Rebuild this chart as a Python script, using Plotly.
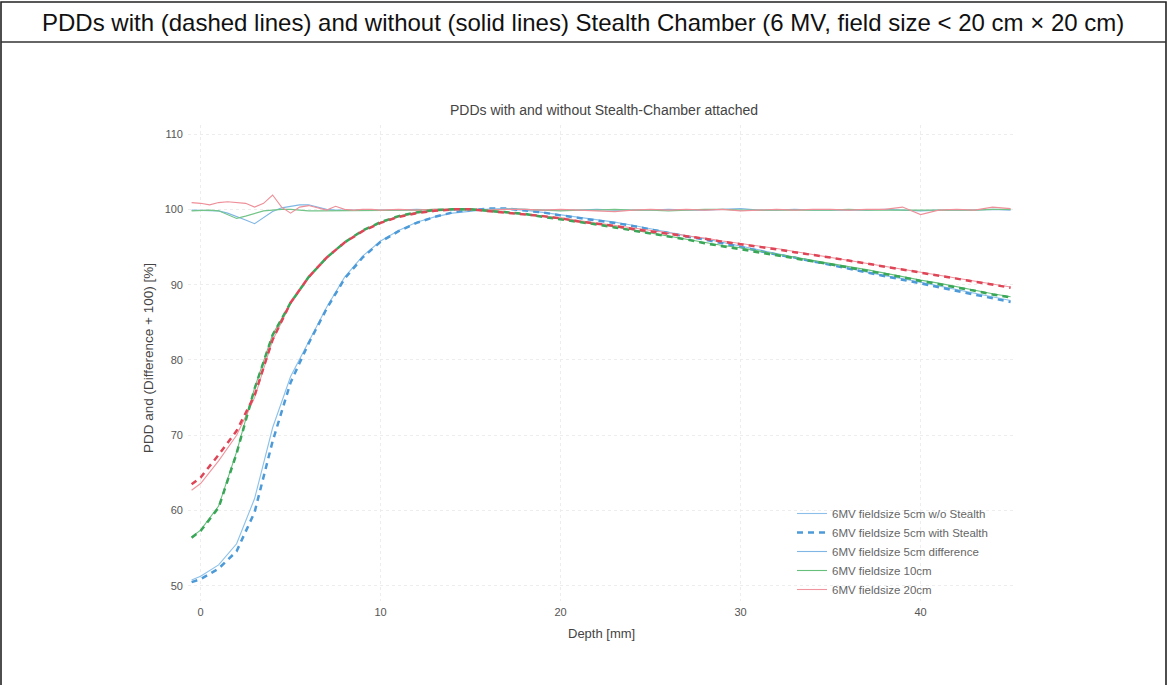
import plotly.graph_objects as go

# ---------------- data ----------------
depth_pdd = [-0.5, 0, 1, 2, 3, 4, 5, 6, 7, 8, 9, 10, 11, 12, 13, 14, 15, 16, 17, 18, 19, 20,
             21, 22, 23, 24, 25, 26, 27, 28, 29, 30, 31, 32, 33, 34, 35, 36, 37, 38, 39, 40,
             41, 42, 43, 44, 45]

pdd5_without = [50.8, 51.3, 52.8, 55.6, 61.6, 71.0, 77.8, 82.5, 87.0, 91.0, 93.8, 95.8, 97.2, 98.3,
                99.0, 99.5, 99.8, 100.0, 100.0, 99.9, 99.6, 99.3,
                99.0, 98.6, 98.3, 97.9, 97.4, 97.0, 96.5, 96.1, 95.6, 95.1, 94.6, 94.1, 93.7, 93.2,
                92.7, 92.2, 91.7, 91.2, 90.8, 90.3, 89.8, 89.3, 88.8, 88.4, 87.9]
pdd5_with = [50.5, 50.9, 52.3, 54.6, 59.8, 69.2, 77.0, 82.2, 86.8, 90.8, 93.6, 95.7, 97.1, 98.2,
             99.0, 99.6, 99.9, 100.1, 100.1, 99.9, 99.6, 99.2,
             98.9, 98.5, 98.2, 97.8, 97.3, 96.9, 96.4, 96.0, 95.5, 95.0, 94.5, 94.0, 93.6, 93.1,
             92.6, 92.1, 91.6, 91.1, 90.7, 90.2, 89.7, 89.2, 88.7, 88.2, 87.7]
pdd10_without = [56.5, 57.4, 60.6, 67.8, 76.3, 83.4, 87.6, 91.0, 93.6, 95.6, 97.2, 98.3, 99.1, 99.6,
                 99.9, 100.0, 100.0, 99.8, 99.6, 99.4, 99.1, 98.8,
                 98.4, 98.1, 97.7, 97.3, 96.9, 96.5, 96.0, 95.6, 95.2, 94.9, 94.5, 94.1, 93.7, 93.2,
                 92.8, 92.4, 92.0, 91.5, 91.1, 90.6, 90.2, 89.7, 89.3, 88.8, 88.4]
pdd10_with = [56.4, 57.3, 60.4, 67.6, 76.2, 83.3, 87.6, 91.0, 93.6, 95.6, 97.2, 98.3, 99.1, 99.6,
              99.9, 100.0, 100.0, 99.8, 99.6, 99.4, 99.0, 98.7,
              98.3, 98.0, 97.6, 97.2, 96.8, 96.4, 96.0, 95.5, 95.1, 94.8, 94.4, 94.0, 93.6, 93.1,
              92.7, 92.3, 91.9, 91.4, 91.0, 90.5, 90.1, 89.6, 89.2, 88.7, 88.3]
pdd20_without = [62.7, 63.6, 66.6, 70.0, 75.0, 82.6, 87.5, 90.9, 93.5, 95.6, 97.1, 98.2, 99.0, 99.5,
                 99.8, 100.0, 100.0, 99.8, 99.6, 99.4, 99.2, 98.9,
                 98.5, 98.2, 97.9, 97.5, 97.2, 96.9, 96.5, 96.2, 95.8, 95.5, 95.1, 94.8, 94.4, 94.0,
                 93.7, 93.3, 92.9, 92.5, 92.1, 91.7, 91.3, 90.9, 90.5, 90.1, 89.7]
pdd20_with = [63.5, 64.4, 67.4, 70.6, 75.3, 82.7, 87.6, 91.0, 93.6, 95.6, 97.1, 98.2, 99.0, 99.5,
              99.8, 100.0, 100.0, 99.8, 99.6, 99.3, 99.1, 98.8,
              98.4, 98.1, 97.8, 97.4, 97.1, 96.8, 96.4, 96.1, 95.7, 95.4, 95.0, 94.7, 94.3, 93.9,
              93.6, 93.2, 92.8, 92.4, 92.0, 91.6, 91.2, 90.8, 90.4, 90.0, 89.6]

depth_diff = [-0.5, 0, 0.5, 1, 1.5, 2, 2.5, 3, 3.5, 4, 4.5, 5, 5.5, 6, 6.5, 7, 7.5, 8, 8.5, 9, 9.5, 10,
              11, 12, 13, 14, 15, 16, 17, 18, 19, 20, 21, 22, 23, 24, 25, 26, 27, 28, 29, 30,
              31, 32, 33, 34, 35, 36, 37, 38, 39, 40, 41, 42, 43, 44, 45]

diff5 = [99.9, 99.9, 99.9, 99.8, 99.5, 99.1, 98.6, 98.1, 98.9, 99.7, 100.2, 100.4, 100.6, 100.6,
         100.3, 100.0, 99.9, 99.9, 99.9, 99.9, 99.9, 99.9,
         99.9, 100.0, 99.9, 99.9, 100.0, 100.0, 100.1, 100.0, 99.9, 99.9, 99.9, 100.0, 99.9, 99.9,
         99.9, 100.0, 99.9, 99.9, 100.0, 100.1, 99.9, 99.9, 100.0, 99.9, 99.9, 99.9, 99.9, 100.0,
         99.9, 99.8, 99.9, 99.9, 99.9, 100.0, 99.9]
diff10 = [99.8, 99.9, 99.9, 99.8, 99.3, 98.8, 99.1, 99.5, 99.8, 99.9, 100.0, 100.0, 99.9, 99.8,
          99.8, 99.8, 99.8, 99.9, 99.9, 99.9, 99.9, 99.9,
          99.9, 99.9, 100.0, 100.0, 99.9, 99.9, 100.0, 100.0, 99.9, 99.8, 99.9, 99.9, 100.0, 99.9,
          99.9, 99.8, 99.9, 100.0, 100.0, 99.9, 99.9, 99.9, 99.8, 99.9, 99.9, 100.0, 99.9, 99.9,
          99.9, 99.8, 99.9, 99.9, 99.9, 100.0, 100.0]
diff20 = [100.9, 100.8, 100.6, 100.9, 101.0, 100.9, 100.8, 100.3, 100.8, 101.9, 100.3, 99.5, 100.3,
          100.5, 100.2, 99.9, 100.4, 100.0, 99.9, 100.0, 100.0, 99.9,
          100.0, 99.9, 100.0, 100.0, 100.0, 99.9, 100.0, 100.0, 99.9, 100.0, 99.9, 99.8, 99.7, 99.9,
          100.0, 99.9, 100.0, 99.9, 100.0, 99.8, 99.9, 100.0, 99.9, 100.0, 100.0, 99.9, 100.0,
          100.0, 100.3, 99.3, 99.9, 100.0, 99.9, 100.3, 100.1]

x_ticks = [0, 10, 20, 30, 40]
y_ticks = [50, 60, 70, 80, 90, 100, 110]

header = "PDDs with (dashed lines) and without (solid lines) Stealth Chamber (6 MV, field size < 20 cm × 20 cm)"
chart_title = "PDDs with and without Stealth-Chamber attached"
x_title = "Depth [mm]"
y_title = "PDD and (Difference + 100) [%]"

# ---------------- layout geometry (pixels) ----------------
FW, FH = 1168, 685
PL, PR, PT, PB = 188, 1016, 125, 601
W, H = PR - PL, PB - PT


def px(x):
    return (x - PL) / W


def py(y):
    return (PB - y) / H


FONT = "Liberation Sans, Arial, sans-serif"

BLUE_S, BLUE_D, BLUE_DIFF = "#8cc0ea", "#4d9ad8", "#7fb6e4"
GREEN_S, GREEN_D, GREEN_DIFF = "#66c07c", "#3aa657", "#72c488"
RED_S, RED_D, RED_DIFF = "#f0949e", "#de4657", "#ee8f99"

DASH = dict(width=2.5, dash="6px,5px")

fig = go.Figure()

# traces shown in the legend (in legend order)
fig.add_trace(go.Scatter(x=depth_pdd, y=pdd5_without, mode="lines", name="6MV fieldsize 5cm w/o Stealth",
                         line=dict(color=BLUE_S, width=1.1)))
fig.add_trace(go.Scatter(x=depth_pdd, y=pdd5_with, mode="lines", name="6MV fieldsize 5cm with Stealth",
                         line=dict(color=BLUE_D, **DASH)))
fig.add_trace(go.Scatter(x=depth_diff, y=diff5, mode="lines", name="6MV fieldsize 5cm difference",
                         line=dict(color=BLUE_DIFF, width=1.1)))
fig.add_trace(go.Scatter(x=depth_pdd, y=pdd10_without, mode="lines", name="6MV fieldsize 10cm",
                         line=dict(color=GREEN_S, width=1.1)))
fig.add_trace(go.Scatter(x=depth_pdd, y=pdd20_without, mode="lines", name="6MV fieldsize 20cm",
                         line=dict(color=RED_S, width=1.1)))
# remaining traces
fig.add_trace(go.Scatter(x=depth_diff, y=diff10, mode="lines", name="6MV fieldsize 10cm difference",
                         line=dict(color=GREEN_DIFF, width=1.1), showlegend=False))
fig.add_trace(go.Scatter(x=depth_diff, y=diff20, mode="lines", name="6MV fieldsize 20cm difference",
                         line=dict(color=RED_DIFF, width=1.1), showlegend=False))
fig.add_trace(go.Scatter(x=depth_pdd, y=pdd10_with, mode="lines", name="6MV fieldsize 10cm with Stealth",
                         line=dict(color=GREEN_D, **DASH), showlegend=False))
fig.add_trace(go.Scatter(x=depth_pdd, y=pdd20_with, mode="lines", name="6MV fieldsize 20cm with Stealth",
                         line=dict(color=RED_D, **DASH), showlegend=False))

axis_common = dict(showline=False, zeroline=False, ticks="",
                   showgrid=True, gridcolor="#ededed", griddash="dot", gridwidth=1,
                   tickfont=dict(family=FONT, size=11, color="#555555"))

fig.update_xaxes(range=[-0.7, 45.3], tickvals=x_ticks, ticklabelstandoff=3, **axis_common)
fig.update_yaxes(range=[48.0, 111.2], tickvals=y_ticks, ticklabelstandoff=4, **axis_common)

shapes = [
    # outer frame
    dict(type="rect", xref="paper", yref="paper", x0=px(1), x1=px(1166), y0=py(690), y1=py(2),
         line=dict(color="#222222", width=1.6), fillcolor="rgba(0,0,0,0)", layer="above"),
    # header separator
    dict(type="line", xref="paper", yref="paper", x0=px(1), x1=px(1166), y0=py(42), y1=py(42),
         line=dict(color="#333333", width=1.4), layer="above"),
]

annotations = [
    dict(text=header, x=px(583), y=py(22), xref="paper", yref="paper", showarrow=False,
         xanchor="center", yanchor="middle", font=dict(family=FONT, size=24, color="#111111")),
    dict(text=chart_title, x=px(604), y=py(110), xref="paper", yref="paper", showarrow=False,
         xanchor="center", yanchor="middle", font=dict(family=FONT, size=14, color="#444444")),
    dict(text=x_title, x=px(601), y=py(633), xref="paper", yref="paper", showarrow=False,
         xanchor="center", yanchor="middle", font=dict(family=FONT, size=13, color="#444444")),
    dict(text=y_title, x=px(148), y=py(358), xref="paper", yref="paper", showarrow=False,
         textangle=-90, xanchor="center", yanchor="middle",
         font=dict(family=FONT, size=13.5, color="#444444")),
]

fig.update_layout(
    width=FW, height=FH,
    margin=dict(l=PL, r=FW - PR, t=PT, b=FH - PB),
    paper_bgcolor="white", plot_bgcolor="white",
    shapes=shapes, annotations=annotations,
    legend=dict(x=px(792), y=py(499), xanchor="left", yanchor="top",
                bgcolor="rgba(255,255,255,0)", font=dict(family=FONT, size=11.5, color="#666666"),
                traceorder="normal", itemwidth=30, tracegroupgap=0),
    showlegend=True,
)

fig.write_html("out.html", config={"displayModeBar": False},
               post_script="document.body.style.margin='0';document.body.style.overflow='hidden';")
